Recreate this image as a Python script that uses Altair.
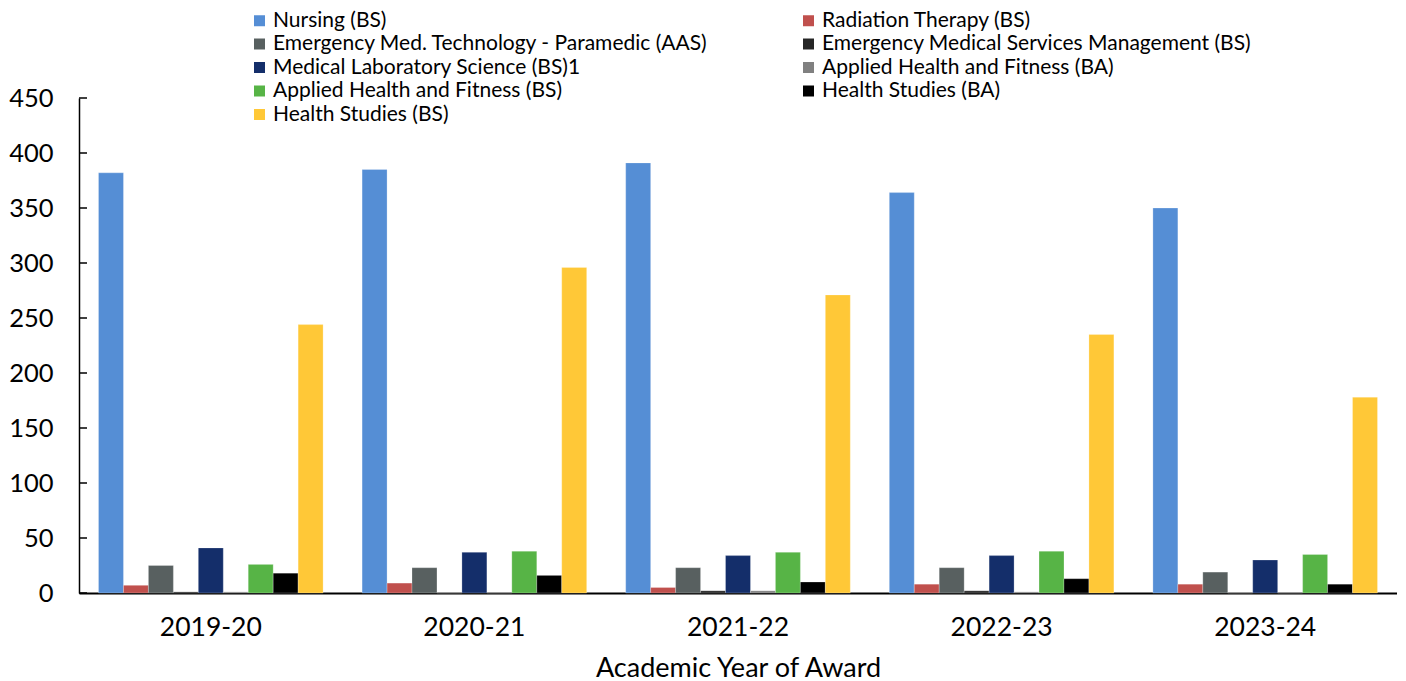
import altair as alt
import pandas as pd

years = ["2019-20", "2020-21", "2021-22", "2022-23", "2023-24"]
programs = [
    "Nursing (BS)",
    "Radiation Therapy (BS)",
    "Emergency Med. Technology - Paramedic (AAS)",
    "Emergency Medical Services Management (BS)",
    "Medical Laboratory Science (BS)1",
    "Applied Health and Fitness (BA)",
    "Applied Health and Fitness (BS)",
    "Health Studies (BA)",
    "Health Studies (BS)",
]
colors = ["#558ed5", "#c0504d", "#586060", "#262626", "#142e6a",
          "#808080", "#57b446", "#000000", "#ffc837"]

nursing = [382, 385, 391, 364, 350]
radiation = [7, 9, 5, 8, 8]
emt = [25, 23, 23, 23, 19]
ems = [1, 0, 2, 2, 0]
mls = [41, 37, 34, 34, 30]
ahf_ba = [1, 0, 2, 1, 0]
ahf_bs = [26, 38, 37, 38, 35]
hs_ba = [18, 16, 10, 13, 8]
hs_bs = [244, 296, 271, 235, 178]
y_ticks = list(range(0, 451, 50))

series = [nursing, radiation, emt, ems, mls, ahf_ba, ahf_bs, hs_ba, hs_bs]
rows = []
for prog, vals in zip(programs, series):
    for yr, v in zip(years, vals):
        rows.append({"year": yr, "program": prog, "value": v})
df = pd.DataFrame(rows)
ticks_df = pd.DataFrame({"t": y_ticks})

# legend fills column by column: reorder so it reads row by row (2 columns)
legend_order = programs[0::2] + programs[1::2]
legend_colors = [colors[programs.index(p)] for p in legend_order]

FONT = "Lato"
yscale = alt.Scale(domain=[0, 450], nice=False)
yaxis = alt.Axis(title=None, values=y_ticks, ticks=False, grid=False,
                 labelFontSize=25.5, labelFont=FONT, labelColor="#000000",
                 labelPadding=26, domainColor="#000000", domainWidth=1.5)

bars = alt.Chart(df).mark_bar(stroke="#ffffff", strokeWidth=0.4, strokeOpacity=0.6).encode(
    x=alt.X("year:N", sort=years,
            scale=alt.Scale(paddingInner=0.148, paddingOuter=0.074),
            axis=alt.Axis(title="Academic Year of Award", labelAngle=0, ticks=False,
                          labelFontSize=26.5, labelFont=FONT, labelColor="#000000",
                          labelPadding=21, titleFontSize=27, titleFont=FONT,
                          titleFontWeight="normal", titleColor="#000000", titlePadding=15,
                          domainColor="#000000", domainWidth=2)),
    xOffset=alt.XOffset("program:N", sort=programs, scale=alt.Scale(paddingInner=0, paddingOuter=0)),
    y=alt.Y("value:Q", scale=yscale, axis=yaxis),
    color=alt.Color("program:N",
                    scale=alt.Scale(domain=legend_order, range=legend_colors),
                    legend=alt.Legend(title=None, orient="none", legendX=170, legendY=-88,
                                      columns=2, columnPadding=89, rowPadding=1.5,
                                      symbolType="square", symbolSize=121,
                                      symbolStrokeWidth=0, labelFontSize=21,
                                      labelFont=FONT, labelColor="#000000",
                                      labelOffset=3, padding=0, labelLimit=700)),
)

tick_marks = alt.Chart(ticks_df).mark_rule(color="#000000", strokeWidth=1.5).encode(
    x=alt.value(0), x2=alt.value(8),
    y=alt.Y("t:Q", scale=yscale, axis=yaxis),
)

chart = alt.layer(bars, tick_marks).properties(
    width=1318, height=495,
    autosize=alt.AutoSizeParams(type="none"),
    padding={"left": 71, "top": 90, "right": 0, "bottom": 95},
).configure_view(stroke=None).configure_axis(grid=False)

chart.save("out.html", embed_options={"renderer": "svg", "actions": False})
